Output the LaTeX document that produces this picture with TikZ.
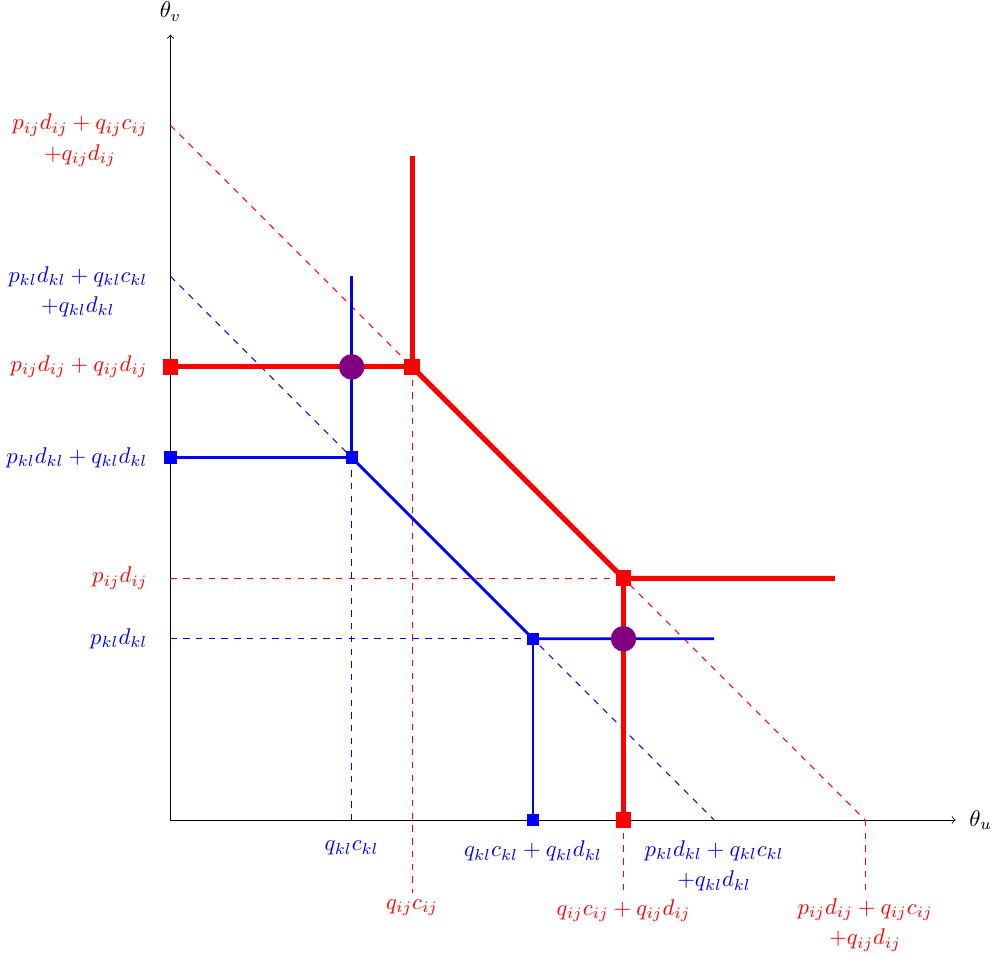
\documentclass[tikz,border=0pt]{standalone}
\definecolor{violetdot}{RGB}{128,0,128}
\begin{document}
\begin{tikzpicture}[x=0.5cm,y=0.5cm,
  axisline/.style={black,thin,->},
  reddash/.style={red,line width=0.45pt,dashed},
  bluedash/.style={blue,line width=0.45pt,dashed},
  redpath/.style={red,line width=2.4pt},
  bluepath/.style={blue,line width=1.3pt},
  redsq/.style={fill=red,inner sep=0pt,minimum size=7.5pt,rectangle},
  bluesq/.style={fill=blue,inner sep=0pt,minimum size=5.8pt,rectangle},
  dot/.style={fill=violetdot,circle,inner sep=0pt,minimum size=12pt},
  axlab/.style={scale=1.07,black},
  redlab/.style={scale=1.07,text=red,align=center},
  bluelab/.style={scale=1.07,text=blue,align=center}]
\useasboundingbox (-5.645,-4.54) rectangle (27.235,27.15);

% axes
\coordinate (O) at (0,0);
\coordinate (xend) at (26,0);
\coordinate (yend) at (0,26);
\draw[axisline] (O) -- (xend) node[right,axlab,xshift=2.5pt] (thu) {$\theta_u$};
\draw[axisline] (O) -- (yend) node[above,axlab,yshift=2.5pt] (thv) {$\theta_v$};

% helper coordinates
\coordinate (ry23) at (0,23);
\coordinate (rx23) at (23,0);
\coordinate (by18) at (0,18);
\coordinate (bx18) at (18,0);
\coordinate (ry8) at (0,8);
\coordinate (by6) at (0,6);
\coordinate (d8) at (8,-2.42);
\coordinate (d15) at (15,-2.42);
\coordinate (d23) at (23,-2.42);
\coordinate (rtop) at (8,22);
\coordinate (rright) at (22,8);
\coordinate (btop) at (6,18);
\coordinate (bright) at (18,6);

% squares / dots positions
\coordinate (R1) at (0,15);
\coordinate (R2) at (8,15);
\coordinate (R3) at (15,8);
\coordinate (R4) at (15,0);
\coordinate (B1) at (0,12);
\coordinate (B2) at (6,12);
\coordinate (B3) at (12,6);
\coordinate (B4) at (12,0);
\coordinate (B6) at (6,0);

% dashed guides
\draw[reddash] (ry23) -- (rx23);
\draw[bluedash] (by18) -- (bx18);
\draw[reddash] (ry8) -- (R3);
\draw[bluedash] (by6) -- (B3);
\draw[reddash] (R2) -- (d8);
\draw[reddash] (R4) -- (d15);
\draw[reddash] (rx23) -- (d23);
\draw[bluedash] (B2) -- (B6);

% blue path
\draw[bluepath] (B1) -- (B2) -- (btop);
\draw[bluepath] (B2) -- (B3) -- (bright);
\draw[bluepath] (B3) -- (B4);

% red path
\draw[redpath] (R1) -- (R2) -- (rtop);
\draw[redpath] (R2) -- (R3) -- (rright);
\draw[redpath] (R3) -- (R4);

% markers
\node[bluesq] (b1) at (B1) {};
\node[bluesq] (b2) at (B2) {};
\node[bluesq] (b3) at (B3) {};
\node[bluesq] (b4) at (B4) {};
\node[redsq] (r1) at (R1) {};
\node[redsq] (r2) at (R2) {};
\node[redsq] (r3) at (R3) {};
\node[redsq] (r4) at (R4) {};
\node[dot] (p1) at (6,15) {};
\node[dot] (p2) at (15,6) {};

% y labels
\node[redlab,anchor=east] (ly1) at (-0.5,22.5) {$p_{ij}d_{ij}+q_{ij}c_{ij}$\\[1.3pt]$+q_{ij}d_{ij}$};
\node[bluelab,anchor=east] (ly2) at (-0.5,17.5) {$p_{kl}d_{kl}+q_{kl}c_{kl}$\\[1.3pt]$+q_{kl}d_{kl}$};
\node[redlab,anchor=east] (ly3) at (-0.5,15) {$p_{ij}d_{ij}+q_{ij}d_{ij}$};
\node[bluelab,anchor=east] (ly4) at (-0.5,12) {$p_{kl}d_{kl}+q_{kl}d_{kl}$};
\node[redlab,anchor=east] (ly5) at (-0.5,8) {$p_{ij}d_{ij}$};
\node[bluelab,anchor=east] (ly6) at (-0.5,6) {$p_{kl}d_{kl}$};

% x labels
\node[bluelab] (lx1) at (6,-0.93) {$q_{kl}c_{kl}$};
\node[redlab] (lx2) at (8,-2.91) {$q_{ij}c_{ij}$};
\node[bluelab] (lx3) at (12,-1.03) {$q_{kl}c_{kl}+q_{kl}d_{kl}$};
\node[redlab] (lx4) at (15,-3.0) {$q_{ij}c_{ij}+q_{ij}d_{ij}$};
\node[bluelab] (lx5) at (18,-1.52) {$p_{kl}d_{kl}+q_{kl}c_{kl}$\\[1.3pt]$+q_{kl}d_{kl}$};
\node[redlab] (lx6) at (23,-3.48) {$p_{ij}d_{ij}+q_{ij}c_{ij}$\\[1.3pt]$+q_{ij}d_{ij}$};
\end{tikzpicture}
\end{document}
